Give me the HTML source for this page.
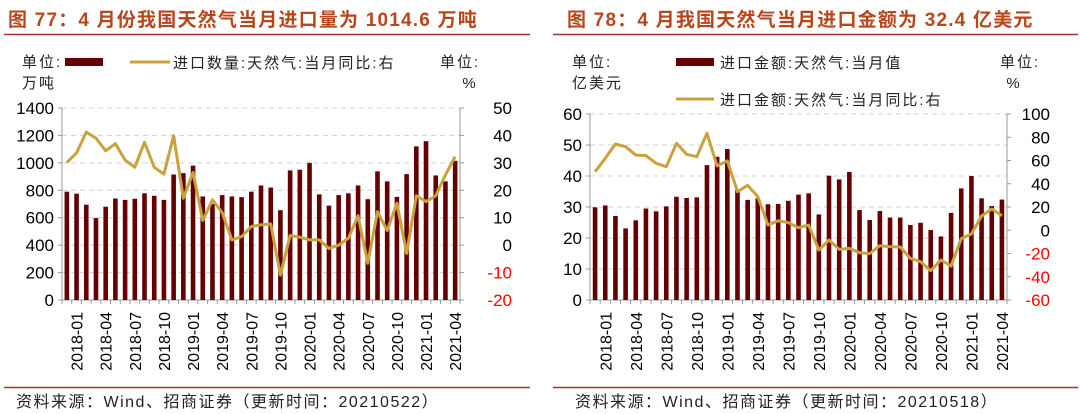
<!DOCTYPE html>
<html><head><meta charset="utf-8">
<style>
html,body{margin:0;padding:0;background:#fff;}
svg{display:block;font-family:"Liberation Sans","Noto Sans CJK SC",sans-serif;}
</style></head>
<body>
<svg id="c" width="1080" height="414" viewBox="0 0 1080 414"></svg>
<script>
const months = ["2017-12"];
for (let y = 2018; y <= 2021; y++) for (let m = 1; m <= 12; m++) { if (y === 2021 && m > 4) break; months.push(y + "-" + String(m).padStart(2, "0")); }
const volBars = [790,775,695,598,680,740,730,738,778,760,730,915,925,980,755,700,765,755,750,790,835,820,655,945,950,1000,770,688,765,778,835,735,938,865,752,918,1120,1158,908,865,1015];
const volYoy = [30.1,33.6,41.2,39,34.4,37,31,28.4,37.5,28.4,25.9,39.9,17.1,26.5,9,16.5,11.9,1.9,3.1,6.8,7.4,7.7,-10.9,3.5,2.9,1.9,1.9,-1.2,0,2.5,10.7,-6.6,12.2,5.3,15.3,-3,18,15.9,18,25.6,32.3];
const valBars = [29.9,30.5,27.1,23.1,25.7,29.5,28.6,30.2,33.3,32.9,33.1,43.5,46.2,48.7,35.5,32.3,32.8,30.9,31,32,34,34.4,27.6,40.1,38.9,41.3,29,25.8,28.7,26.6,26.6,24.2,24.9,22.6,20.5,28.1,36,40,32.8,30.3,32.4];
const valYoy = [50.4,61.9,74.2,71.9,64.7,64.2,57.6,54.7,74.8,65.3,63.3,83.4,55.3,59.6,33.2,38.6,28.9,4.5,8.2,6.5,2.2,4.5,-17,-8.4,-16.4,-15.6,-19.3,-20.1,-13.3,-14.1,-14.4,-24.2,-27,-34.8,-25.6,-30.8,-7.2,-3.2,12.3,18.3,12.5];
const leftTicksL = [0,200,400,600,800,1000,1200,1400];
const rightTicksL = [-20,-10,0,10,20,30,40,50];
const leftTicksR = [0,10,20,30,40,50,60];
const rightTicksR = [-60,-40,-20,0,20,40,60,80,100];

const svg = document.getElementById('c');
const NS = "http://www.w3.org/2000/svg";
function el(tag, attrs, parent, text) {
  const e = document.createElementNS(NS, tag);
  for (const k in attrs) e.setAttribute(k, attrs[k]);
  if (text !== undefined) e.textContent = text;
  (parent || svg).appendChild(e);
  return e;
}
const BAR = "#660000", LINE = "#c9a23c", TITLE = "#b8461b";

function chart(o) {
  const g = el('g', {});
  
  
  const n = months.length, step = (o.x1 - o.x0) / n;
  const xc = i => o.x0 + step * (i + 0.5);
  const yl = v => o.yb - (v - o.lmin) / (o.lmax - o.lmin) * (o.yb - o.yt);
  const yr = v => o.yb - (v - o.rmin) / (o.rmax - o.rmin) * (o.yb - o.yt);
  let t = el('text', {x: o.tx, y: 26, 'font-size': 19, 'font-weight': 'bold', fill: TITLE, 'letter-spacing': 1.2}, g, o.title);
   
  let l = el('line', {x1: o.lx0, x2: o.lx1, y1: 34.5, y2: 34.5, stroke: '#a83232', 'stroke-width': 1.5}, g);
   
  o.lticks.forEach(v => {
    const y = yl(v);
    if (v !== o.lmin) { const gl = el('line', {x1: o.x0, x2: o.x1, y1: y, y2: y, stroke: '#d0d0d0', 'stroke-dasharray': '5,4'}, g);
        }
    el('line', {x1: o.x0 - 4, x2: o.x0, y1: y, y2: y, stroke: '#999'}, g);
    const tl = el('text', {x: o.x0 - 8, y: y + 6, 'font-size': 17, 'text-anchor': 'end', fill: '#000'}, g, v);
     
  });
  o.rticks.forEach(v => {
    const y = yr(v);
    el('line', {x1: o.x1, x2: o.x1 + 4, y1: y, y2: y, stroke: '#999'}, g);
    const tl = el('text', {x: o.rx, y: y + 6, 'font-size': 17, 'text-anchor': 'end', fill: v < 0 ? '#ff0000' : '#000'}, g, v);
     
  });
  el('line', {x1: o.x0, x2: o.x0, y1: o.yt, y2: o.yb, stroke: '#999'}, g);
  el('line', {x1: o.x1, x2: o.x1, y1: o.yt, y2: o.yb, stroke: '#999'}, g);
  el('line', {x1: o.x0, x2: o.x1, y1: o.yb, y2: o.yb, stroke: '#999'}, g);
  for (let i = 0; i <= n; i++) el('line', {x1: o.x0 + step * i, x2: o.x0 + step * i, y1: o.yb, y2: o.yb + 4, stroke: '#999'}, g);
  o.bars.forEach((v, i) => {
    const r = el('rect', {x: xc(i) - 2.3, y: yl(v), width: 4.6, height: o.yb - yl(v), fill: BAR}, g);
    
    
  });
  const p = el('polyline', {points: o.line.map((v, i) => xc(i) + ',' + yr(v)).join(' '), fill: 'none', stroke: LINE, 'stroke-width': 3, 'stroke-linejoin': 'round'}, g);
  
  
  months.forEach((m, i) => {
    if (i % 3 !== 1) return;
    const x = xc(i) + 6, y = o.yb + 12;
    const tl = el('text', {x: x, y: y, 'font-size': 16, 'text-anchor': 'end', transform: `rotate(-90 ${x} ${y})`}, g, m);
     
  });
  let f = el('line', {x1: o.lx0, x2: o.lx1, y1: 387.5, y2: 387.5, stroke: '#a83232', 'stroke-width': 1.5}, g);
   
  let s = el('text', {x: o.tx + 8, y: 407, 'font-size': 16, fill: '#222', 'letter-spacing': 1.5}, g, o.source);
   
  return g;
}

const g1 = chart({name: 'import-volume-chart', x0: 62, x1: 460, yt: 108, yb: 300, lmin: 0, lmax: 1400, rmin: -20, rmax: 50,
  lticks: leftTicksL, rticks: rightTicksL, rx: 512, bars: volBars, line: volYoy, tx: 8, lx0: 4, lx1: 530,
  title: '图 77：4 月份我国天然气当月进口量为 1014.6 万吨', source: '资料来源：Wind、招商证券（更新时间：20210522）'});
const g2 = chart({name: 'import-value-chart', x0: 590, x1: 1007, yt: 114, yb: 300, lmin: 0, lmax: 60, rmin: -60, rmax: 100,
  lticks: leftTicksR, rticks: rightTicksR, rx: 1050, bars: valBars, line: valYoy, tx: 567, lx0: 553, lx1: 1078,
  title: '图 78：4 月我国天然气当月进口金额为 32.4 亿美元', source: '资料来源：Wind、招商证券（更新时间：20210518）'});

function txt(x, y, s, name, size, anchor, parent) {
  const t = el('text', {x: x, y: y, 'font-size': size || 15, 'text-anchor': anchor || 'start', fill: '#222', 'letter-spacing': 2}, parent, s);
  
  
  return t;
}
txt(22, 67, '单位:', 'left-unit-label', 15, 'start', g1);
txt(22, 88, '万吨', 'left-unit-label', 15, 'start', g1);
let sw = el('rect', {x: 65, y: 58, width: 38, height: 8, fill: BAR}, g1);
 
sw = el('line', {x1: 130, x2: 170, y1: 62, y2: 62, stroke: LINE, 'stroke-width': 3}, g1);
 
txt(173, 68, '进口数量:天然气:当月同比:右', 'legend-entry', 15, 'start', g1);
txt(440, 67, '单位:', 'right-unit-label', 15, 'start', g1);
txt(470, 88, '%', 'right-unit-label', 15, 'middle', g1);
txt(572, 67, '单位:', 'left-unit-label', 15, 'start', g2);
txt(572, 88, '亿美元', 'left-unit-label', 15, 'start', g2);
sw = el('rect', {x: 676, y: 58, width: 38, height: 8, fill: BAR}, g2);
 
txt(720, 68, '进口金额:天然气:当月值', 'legend-entry', 15, 'start', g2);
sw = el('line', {x1: 676, x2: 714, y1: 99, y2: 99, stroke: LINE, 'stroke-width': 3}, g2);
 
txt(720, 105, '进口金额:天然气:当月同比:右', 'legend-entry', 15, 'start', g2);
txt(1000, 67, '单位:', 'right-unit-label', 15, 'start', g2);
txt(1014, 88, '%', 'right-unit-label', 15, 'middle', g2);
</script>
</body></html>
